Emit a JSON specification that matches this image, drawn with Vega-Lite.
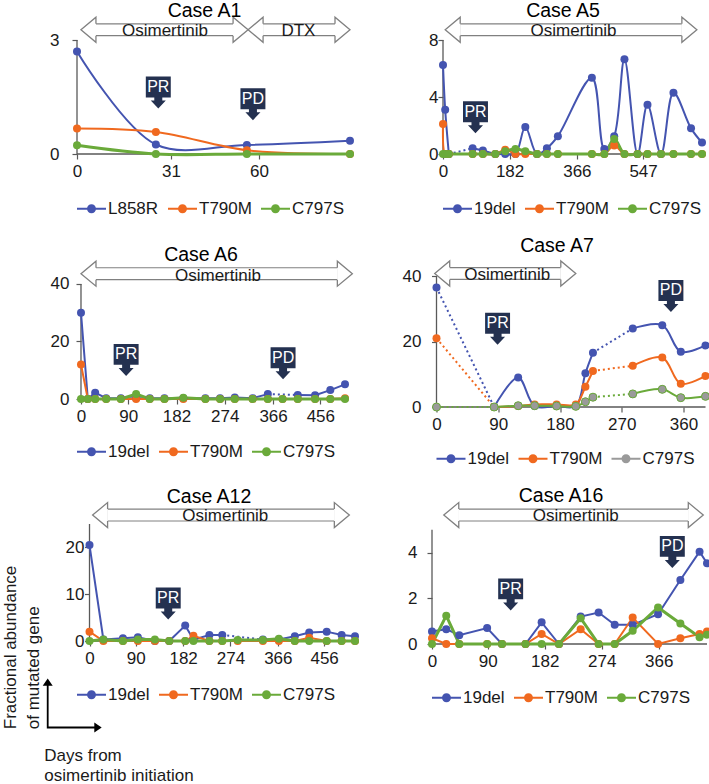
{
"$schema": "https://vega.github.io/schema/vega-lite/v6.json",
"background": "white",
"padding": {"left": 2, "top": 1, "right": 0, "bottom": 0},
"datasets": {
"obs": [
{"c":"A1","s":"L858R","g":"s1","d":0,"v":2.7},{"c":"A1","s":"L858R","g":"s1","d":26,"v":0.25},{"c":"A1","s":"L858R","g":"s1","d":56,"v":0.24},{"c":"A1","s":"L858R","g":"s1","d":90,"v":0.35},
{"c":"A1","s":"T790M","g":"s1","d":0,"v":0.67},{"c":"A1","s":"T790M","g":"s1","d":26,"v":0.58},{"c":"A1","s":"T790M","g":"s1","d":56,"v":0.1},{"c":"A1","s":"T790M","g":"s1","d":90,"v":0},
{"c":"A1","s":"C797S","g":"s1","d":0,"v":0.23},{"c":"A1","s":"C797S","g":"s1","d":26,"v":0},{"c":"A1","s":"C797S","g":"s1","d":56,"v":0},{"c":"A1","s":"C797S","g":"s1","d":90,"v":0},
{"c":"A5","s":"19del","g":"s1","d":0,"v":6.25},{"c":"A5","s":"19del","g":"s1","d":6,"v":3.1},{"c":"A5","s":"19del","g":"s1","d":16,"v":0},
{"c":"A5","s":"19del","g":"d1","d":16,"v":0},{"c":"A5","s":"19del","g":"d1","d":81,"v":0.4},
{"c":"A5","s":"19del","g":"s2","d":81,"v":0.4},{"c":"A5","s":"19del","g":"s2","d":109,"v":0.25},{"c":"A5","s":"19del","g":"s2","d":143,"v":0},{"c":"A5","s":"19del","g":"s2","d":170,"v":0},{"c":"A5","s":"19del","g":"s2","d":198,"v":0},{"c":"A5","s":"19del","g":"s2","d":225,"v":1.9},{"c":"A5","s":"19del","g":"s2","d":257,"v":0},{"c":"A5","s":"19del","g":"s2","d":284,"v":0.4},{"c":"A5","s":"19del","g":"s2","d":314,"v":1.25},{"c":"A5","s":"19del","g":"s2","d":407,"v":5.35},{"c":"A5","s":"19del","g":"s2","d":441,"v":0.35},{"c":"A5","s":"19del","g":"s2","d":468,"v":1.25},{"c":"A5","s":"19del","g":"s2","d":496,"v":6.65},{"c":"A5","s":"19del","g":"s2","d":532,"v":0},{"c":"A5","s":"19del","g":"s2","d":559,"v":3.45},{"c":"A5","s":"19del","g":"s2","d":596,"v":0},{"c":"A5","s":"19del","g":"s2","d":630,"v":4.3},{"c":"A5","s":"19del","g":"s2","d":678,"v":1.8},{"c":"A5","s":"19del","g":"s2","d":708,"v":0.8},
{"c":"A5","s":"T790M","g":"s1","d":0,"v":2.1},{"c":"A5","s":"T790M","g":"s1","d":6,"v":0},{"c":"A5","s":"T790M","g":"s1","d":16,"v":0},{"c":"A5","s":"T790M","g":"s1","d":81,"v":0},{"c":"A5","s":"T790M","g":"s1","d":109,"v":0},{"c":"A5","s":"T790M","g":"s1","d":143,"v":0},{"c":"A5","s":"T790M","g":"s1","d":170,"v":0.3},{"c":"A5","s":"T790M","g":"s1","d":198,"v":0},{"c":"A5","s":"T790M","g":"s1","d":225,"v":0},{"c":"A5","s":"T790M","g":"s1","d":257,"v":0},{"c":"A5","s":"T790M","g":"s1","d":284,"v":0},{"c":"A5","s":"T790M","g":"s1","d":314,"v":0},{"c":"A5","s":"T790M","g":"s1","d":407,"v":0},{"c":"A5","s":"T790M","g":"s1","d":441,"v":0},{"c":"A5","s":"T790M","g":"s1","d":468,"v":0.6},{"c":"A5","s":"T790M","g":"s1","d":496,"v":0},{"c":"A5","s":"T790M","g":"s1","d":532,"v":0},{"c":"A5","s":"T790M","g":"s1","d":559,"v":0},{"c":"A5","s":"T790M","g":"s1","d":596,"v":0},{"c":"A5","s":"T790M","g":"s1","d":630,"v":0},{"c":"A5","s":"T790M","g":"s1","d":678,"v":0},{"c":"A5","s":"T790M","g":"s1","d":708,"v":0},
{"c":"A5","s":"C797S","g":"s1","d":0,"v":0},{"c":"A5","s":"C797S","g":"s1","d":6,"v":0},{"c":"A5","s":"C797S","g":"s1","d":16,"v":0},{"c":"A5","s":"C797S","g":"s1","d":81,"v":0},{"c":"A5","s":"C797S","g":"s1","d":109,"v":0},{"c":"A5","s":"C797S","g":"s1","d":143,"v":0},{"c":"A5","s":"C797S","g":"s1","d":170,"v":0.2},{"c":"A5","s":"C797S","g":"s1","d":198,"v":0.35},{"c":"A5","s":"C797S","g":"s1","d":225,"v":0.2},{"c":"A5","s":"C797S","g":"s1","d":257,"v":0},{"c":"A5","s":"C797S","g":"s1","d":284,"v":0},{"c":"A5","s":"C797S","g":"s1","d":314,"v":0},{"c":"A5","s":"C797S","g":"s1","d":407,"v":0},{"c":"A5","s":"C797S","g":"s1","d":441,"v":0},{"c":"A5","s":"C797S","g":"s1","d":468,"v":1.05},{"c":"A5","s":"C797S","g":"s1","d":496,"v":0},{"c":"A5","s":"C797S","g":"s1","d":532,"v":0},{"c":"A5","s":"C797S","g":"s1","d":559,"v":0},{"c":"A5","s":"C797S","g":"s1","d":596,"v":0},{"c":"A5","s":"C797S","g":"s1","d":630,"v":0},{"c":"A5","s":"C797S","g":"s1","d":678,"v":0},{"c":"A5","s":"C797S","g":"s1","d":708,"v":0},
{"c":"A6","s":"19del","g":"s1","d":0,"v":30},{"c":"A6","s":"19del","g":"s1","d":13,"v":0},{"c":"A6","s":"19del","g":"s1","d":27,"v":2.2},{"c":"A6","s":"19del","g":"s1","d":48,"v":0.3},{"c":"A6","s":"19del","g":"s1","d":76,"v":0.3},{"c":"A6","s":"19del","g":"s1","d":105,"v":0.3},{"c":"A6","s":"19del","g":"s1","d":131,"v":0.3},{"c":"A6","s":"19del","g":"s1","d":159,"v":0.3},{"c":"A6","s":"19del","g":"s1","d":195,"v":0.3},{"c":"A6","s":"19del","g":"s1","d":237,"v":0.3},{"c":"A6","s":"19del","g":"s1","d":265,"v":0.3},{"c":"A6","s":"19del","g":"s1","d":293,"v":0.5},{"c":"A6","s":"19del","g":"s1","d":327,"v":0.3},{"c":"A6","s":"19del","g":"s1","d":356,"v":1.7},
{"c":"A6","s":"19del","g":"d1","d":356,"v":1.7},{"c":"A6","s":"19del","g":"d1","d":413,"v":1.4},
{"c":"A6","s":"19del","g":"s2","d":413,"v":1.4},{"c":"A6","s":"19del","g":"s2","d":446,"v":1.3},{"c":"A6","s":"19del","g":"s2","d":475,"v":3.1},{"c":"A6","s":"19del","g":"s2","d":503,"v":5.1},
{"c":"A6","s":"T790M","g":"s1","d":0,"v":12},{"c":"A6","s":"T790M","g":"s1","d":13,"v":0},{"c":"A6","s":"T790M","g":"s1","d":27,"v":0},{"c":"A6","s":"T790M","g":"s1","d":48,"v":0},{"c":"A6","s":"T790M","g":"s1","d":76,"v":0},{"c":"A6","s":"T790M","g":"s1","d":105,"v":0},{"c":"A6","s":"T790M","g":"s1","d":131,"v":0},{"c":"A6","s":"T790M","g":"s1","d":159,"v":0},{"c":"A6","s":"T790M","g":"s1","d":195,"v":0},{"c":"A6","s":"T790M","g":"s1","d":237,"v":0},{"c":"A6","s":"T790M","g":"s1","d":265,"v":0},{"c":"A6","s":"T790M","g":"s1","d":293,"v":0},{"c":"A6","s":"T790M","g":"s1","d":327,"v":0},{"c":"A6","s":"T790M","g":"s1","d":356,"v":0},{"c":"A6","s":"T790M","g":"s1","d":384,"v":0},{"c":"A6","s":"T790M","g":"s1","d":413,"v":0},{"c":"A6","s":"T790M","g":"s1","d":446,"v":0},{"c":"A6","s":"T790M","g":"s1","d":475,"v":0},{"c":"A6","s":"T790M","g":"s1","d":503,"v":0.3},
{"c":"A6","s":"C797S","g":"s1","d":0,"v":0},{"c":"A6","s":"C797S","g":"s1","d":13,"v":0},{"c":"A6","s":"C797S","g":"s1","d":27,"v":0},{"c":"A6","s":"C797S","g":"s1","d":48,"v":0},{"c":"A6","s":"C797S","g":"s1","d":76,"v":0},{"c":"A6","s":"C797S","g":"s1","d":105,"v":1.7},{"c":"A6","s":"C797S","g":"s1","d":131,"v":0},{"c":"A6","s":"C797S","g":"s1","d":159,"v":0},{"c":"A6","s":"C797S","g":"s1","d":195,"v":0.4},{"c":"A6","s":"C797S","g":"s1","d":237,"v":0},{"c":"A6","s":"C797S","g":"s1","d":265,"v":0},{"c":"A6","s":"C797S","g":"s1","d":293,"v":0},{"c":"A6","s":"C797S","g":"s1","d":327,"v":0},{"c":"A6","s":"C797S","g":"s1","d":356,"v":0},{"c":"A6","s":"C797S","g":"s1","d":384,"v":0},{"c":"A6","s":"C797S","g":"s1","d":413,"v":0},{"c":"A6","s":"C797S","g":"s1","d":446,"v":0},{"c":"A6","s":"C797S","g":"s1","d":475,"v":0},{"c":"A6","s":"C797S","g":"s1","d":503,"v":0},
{"c":"A7","s":"19del","g":"s0","d":0,"v":36.5},{"c":"A7","s":"19del","g":"d1","d":0,"v":36.5},{"c":"A7","s":"19del","g":"d1","d":84,"v":0},
{"c":"A7","s":"19del","g":"s1","d":84,"v":0},{"c":"A7","s":"19del","g":"s1","d":119,"v":9},{"c":"A7","s":"19del","g":"s1","d":143,"v":0.3},{"c":"A7","s":"19del","g":"s1","d":175,"v":0.3},{"c":"A7","s":"19del","g":"s1","d":203,"v":0.3},{"c":"A7","s":"19del","g":"s1","d":217,"v":10.3},{"c":"A7","s":"19del","g":"s1","d":228,"v":16.6},
{"c":"A7","s":"19del","g":"d2","d":228,"v":16.6},{"c":"A7","s":"19del","g":"d2","d":286,"v":24},
{"c":"A7","s":"19del","g":"s2","d":286,"v":24},{"c":"A7","s":"19del","g":"s2","d":329,"v":25},{"c":"A7","s":"19del","g":"s2","d":356,"v":16.9},{"c":"A7","s":"19del","g":"s2","d":392,"v":18.8},
{"c":"A7","s":"T790M","g":"s0","d":0,"v":21},{"c":"A7","s":"T790M","g":"d1","d":0,"v":21},{"c":"A7","s":"T790M","g":"d1","d":84,"v":0},
{"c":"A7","s":"T790M","g":"s1","d":84,"v":0},{"c":"A7","s":"T790M","g":"s1","d":119,"v":0.3},{"c":"A7","s":"T790M","g":"s1","d":143,"v":0.8},{"c":"A7","s":"T790M","g":"s1","d":175,"v":0.8},{"c":"A7","s":"T790M","g":"s1","d":203,"v":0.8},{"c":"A7","s":"T790M","g":"s1","d":217,"v":6.2},{"c":"A7","s":"T790M","g":"s1","d":228,"v":11},
{"c":"A7","s":"T790M","g":"d2","d":228,"v":11},{"c":"A7","s":"T790M","g":"d2","d":286,"v":12.6},
{"c":"A7","s":"T790M","g":"s2","d":286,"v":12.6},{"c":"A7","s":"T790M","g":"s2","d":329,"v":15.1},{"c":"A7","s":"T790M","g":"s2","d":356,"v":7.1},{"c":"A7","s":"T790M","g":"s2","d":392,"v":9.5},
{"c":"A7","s":"C797S","g":"s0","d":0,"v":0},{"c":"A7","s":"C797S","g":"d1","d":0,"v":0},{"c":"A7","s":"C797S","g":"d1","d":84,"v":0},
{"c":"A7","s":"C797S","g":"s1","d":84,"v":0},{"c":"A7","s":"C797S","g":"s1","d":119,"v":0.4},{"c":"A7","s":"C797S","g":"s1","d":143,"v":0.4},{"c":"A7","s":"C797S","g":"s1","d":175,"v":0.3},{"c":"A7","s":"C797S","g":"s1","d":203,"v":0.2},{"c":"A7","s":"C797S","g":"s1","d":217,"v":1.6},{"c":"A7","s":"C797S","g":"s1","d":228,"v":3},
{"c":"A7","s":"C797S","g":"d2","d":228,"v":3},{"c":"A7","s":"C797S","g":"d2","d":286,"v":4},
{"c":"A7","s":"C797S","g":"s2","d":286,"v":4},{"c":"A7","s":"C797S","g":"s2","d":329,"v":5.4},{"c":"A7","s":"C797S","g":"s2","d":356,"v":2.85},{"c":"A7","s":"C797S","g":"s2","d":392,"v":3.25},
{"c":"A12","s":"19del","g":"s1","d":0,"v":20.5},{"c":"A12","s":"19del","g":"s1","d":27,"v":0.3},{"c":"A12","s":"19del","g":"s1","d":65,"v":0.6},{"c":"A12","s":"19del","g":"s1","d":94,"v":0.8},{"c":"A12","s":"19del","g":"s1","d":127,"v":0},{"c":"A12","s":"19del","g":"s1","d":155,"v":0},{"c":"A12","s":"19del","g":"s1","d":186,"v":3.3},{"c":"A12","s":"19del","g":"s1","d":202,"v":0.3},{"c":"A12","s":"19del","g":"s1","d":233,"v":1.3},{"c":"A12","s":"19del","g":"s1","d":258,"v":1.3},
{"c":"A12","s":"19del","g":"d1","d":258,"v":1.3},{"c":"A12","s":"19del","g":"d1","d":337,"v":0.3},
{"c":"A12","s":"19del","g":"s2","d":337,"v":0.3},{"c":"A12","s":"19del","g":"s2","d":368,"v":0.3},{"c":"A12","s":"19del","g":"s2","d":399,"v":1},{"c":"A12","s":"19del","g":"s2","d":427,"v":1.8},{"c":"A12","s":"19del","g":"s2","d":461,"v":2},{"c":"A12","s":"19del","g":"s2","d":490,"v":1.3},{"c":"A12","s":"19del","g":"s2","d":516,"v":1},
{"c":"A12","s":"T790M","g":"s1","d":0,"v":2},{"c":"A12","s":"T790M","g":"s1","d":27,"v":0},{"c":"A12","s":"T790M","g":"s1","d":65,"v":0},{"c":"A12","s":"T790M","g":"s1","d":94,"v":0},{"c":"A12","s":"T790M","g":"s1","d":127,"v":0},{"c":"A12","s":"T790M","g":"s1","d":155,"v":0},{"c":"A12","s":"T790M","g":"s1","d":186,"v":0},{"c":"A12","s":"T790M","g":"s1","d":202,"v":1.1},{"c":"A12","s":"T790M","g":"s1","d":233,"v":0},{"c":"A12","s":"T790M","g":"s1","d":258,"v":0},{"c":"A12","s":"T790M","g":"s1","d":288,"v":0},{"c":"A12","s":"T790M","g":"s1","d":337,"v":0},{"c":"A12","s":"T790M","g":"s1","d":368,"v":0},{"c":"A12","s":"T790M","g":"s1","d":399,"v":0},{"c":"A12","s":"T790M","g":"s1","d":427,"v":0.7},{"c":"A12","s":"T790M","g":"s1","d":461,"v":0},{"c":"A12","s":"T790M","g":"s1","d":490,"v":0},{"c":"A12","s":"T790M","g":"s1","d":516,"v":0},
{"c":"A12","s":"C797S","g":"s1","d":0,"v":0},{"c":"A12","s":"C797S","g":"s1","d":27,"v":0.3},{"c":"A12","s":"C797S","g":"s1","d":65,"v":0},{"c":"A12","s":"C797S","g":"s1","d":94,"v":0.3},{"c":"A12","s":"C797S","g":"s1","d":127,"v":0.3},{"c":"A12","s":"C797S","g":"s1","d":155,"v":0},{"c":"A12","s":"C797S","g":"s1","d":186,"v":0},{"c":"A12","s":"C797S","g":"s1","d":202,"v":0},{"c":"A12","s":"C797S","g":"s1","d":233,"v":0},{"c":"A12","s":"C797S","g":"s1","d":258,"v":0},{"c":"A12","s":"C797S","g":"s1","d":288,"v":0.2},{"c":"A12","s":"C797S","g":"s1","d":337,"v":0.2},{"c":"A12","s":"C797S","g":"s1","d":368,"v":0.5},{"c":"A12","s":"C797S","g":"s1","d":399,"v":0},{"c":"A12","s":"C797S","g":"s1","d":427,"v":0},{"c":"A12","s":"C797S","g":"s1","d":461,"v":0},{"c":"A12","s":"C797S","g":"s1","d":490,"v":0},{"c":"A12","s":"C797S","g":"s1","d":516,"v":0},
{"c":"A16","s":"19del","g":"s1","d":0,"v":0.55},{"c":"A16","s":"19del","g":"s1","d":23,"v":0.65},{"c":"A16","s":"19del","g":"s1","d":44,"v":0.38},{"c":"A16","s":"19del","g":"s1","d":89,"v":0.7},{"c":"A16","s":"19del","g":"s1","d":113,"v":0},{"c":"A16","s":"19del","g":"s1","d":151,"v":0},{"c":"A16","s":"19del","g":"s1","d":177,"v":0.95},{"c":"A16","s":"19del","g":"s1","d":205,"v":0},{"c":"A16","s":"19del","g":"s1","d":240,"v":1.2},{"c":"A16","s":"19del","g":"s1","d":269,"v":1.38},{"c":"A16","s":"19del","g":"s1","d":295,"v":0.84},{"c":"A16","s":"19del","g":"s1","d":324,"v":0.84},{"c":"A16","s":"19del","g":"s1","d":365,"v":1.3},{"c":"A16","s":"19del","g":"s1","d":401,"v":2.8},{"c":"A16","s":"19del","g":"s1","d":432,"v":4.04},{"c":"A16","s":"19del","g":"s1","d":444,"v":3.53},
{"c":"A16","s":"T790M","g":"s1","d":0,"v":0.25},{"c":"A16","s":"T790M","g":"s1","d":23,"v":0},{"c":"A16","s":"T790M","g":"s1","d":44,"v":0},{"c":"A16","s":"T790M","g":"s1","d":89,"v":0},{"c":"A16","s":"T790M","g":"s1","d":113,"v":0},{"c":"A16","s":"T790M","g":"s1","d":151,"v":0},{"c":"A16","s":"T790M","g":"s1","d":177,"v":0.44},{"c":"A16","s":"T790M","g":"s1","d":205,"v":0},{"c":"A16","s":"T790M","g":"s1","d":240,"v":0.65},{"c":"A16","s":"T790M","g":"s1","d":269,"v":0},{"c":"A16","s":"T790M","g":"s1","d":295,"v":0},{"c":"A16","s":"T790M","g":"s1","d":324,"v":1.16},{"c":"A16","s":"T790M","g":"s1","d":365,"v":0},{"c":"A16","s":"T790M","g":"s1","d":401,"v":0.25},{"c":"A16","s":"T790M","g":"s1","d":432,"v":0.44},{"c":"A16","s":"T790M","g":"s1","d":444,"v":0.55},
{"c":"A16","s":"C797S","g":"s1","d":0,"v":0},{"c":"A16","s":"C797S","g":"s1","d":23,"v":1.24},{"c":"A16","s":"C797S","g":"s1","d":44,"v":0},{"c":"A16","s":"C797S","g":"s1","d":89,"v":0},{"c":"A16","s":"C797S","g":"s1","d":113,"v":0},{"c":"A16","s":"C797S","g":"s1","d":151,"v":0},{"c":"A16","s":"C797S","g":"s1","d":177,"v":0},{"c":"A16","s":"C797S","g":"s1","d":205,"v":0},{"c":"A16","s":"C797S","g":"s1","d":240,"v":1.13},{"c":"A16","s":"C797S","g":"s1","d":269,"v":0},{"c":"A16","s":"C797S","g":"s1","d":295,"v":0},{"c":"A16","s":"C797S","g":"s1","d":324,"v":0.58},{"c":"A16","s":"C797S","g":"s1","d":365,"v":1.6},{"c":"A16","s":"C797S","g":"s1","d":401,"v":0.9},{"c":"A16","s":"C797S","g":"s1","d":432,"v":0.3},{"c":"A16","s":"C797S","g":"s1","d":444,"v":0.41}
],
"arrows": [
{"c":"A1","t":"Osimertinib","x1":1.3,"x2":56.4,"xm":29,"y":3.27},
{"c":"A1","t":"DTX","x1":56.4,"x2":90,"xm":73,"y":3.27},
{"c":"A5","t":"Osimertinib","x1":6,"x2":694,"xm":357,"y":8.72},
{"c":"A6","t":"Osimertinib","x1":0,"x2":517,"xm":261,"y":43.6},
{"c":"A7","t":"Osimertinib","x1":-2.6,"x2":203,"xm":103,"y":40.76},
{"c":"A12","t":"Osimertinib","x1":6,"x2":505,"xm":264,"y":26.9},
{"c":"A16","t":"Osimertinib","x1":19,"x2":438,"xm":232,"y":5.64}
],
"status": [
{"c":"A1","t":"PR","d":26.8,"v":1.62},{"c":"A1","t":"PD","d":58,"v":1.31},
{"c":"A5","t":"PR","d":88.8,"v":2.58},
{"c":"A6","t":"PR","d":86,"v":13.6},{"c":"A6","t":"PD","d":385,"v":12.4},
{"c":"A7","t":"PR","d":89,"v":23.9},{"c":"A7","t":"PD","d":341.6,"v":33.9},
{"c":"A12","t":"PR","d":153,"v":8},
{"c":"A16","t":"PR","d":127,"v":2.17},{"c":"A16","t":"PD","d":388,"v":4.03}
],
"one": [{"k": 1}]
},
"spacing": 18,
"resolve": {"scale": {"color": "independent", "x": "independent", "y": "independent"}, "legend": {"color": "independent"}},
"vconcat": [
{"hconcat": [
{"width": 273, "height": 114, "title": {"text": "Case A1", "offset": -7, "dx": -9},
 "layer": [
  {"data": {"name": "one"}, "mark": {"type": "rule", "color": "#595959", "strokeWidth": 1.3}, "encoding": {"x": {"datum": 0, "type": "quantitative", "scale": {"domain": [0, 90], "nice": false}, "axis": {"values": [0, 31, 60], "title": null, "labelOverlap": false}}, "y": {"datum": 0, "type": "quantitative", "scale": {"domain": [0, 3], "nice": false}, "axis": {"values": [0, 1, 2, 3], "title": null, "labelOverlap": false, "labelSeparation": -200, "labelPadding": 13}}, "y2": {"datum": 3}}},
  {"data": {"name": "one"}, "mark": {"type": "rule", "color": "#595959", "strokeWidth": 1.3}, "encoding": {"x": {"datum": 0, "type": "quantitative", "scale": {"domain": [0, 90], "nice": false}}, "x2": {"datum": 90}, "y": {"datum": 0, "type": "quantitative", "scale": {"domain": [0, 3], "nice": false}}}},
  {"data": {"name": "arrows"}, "transform": [{"filter": "datum.c==='A1'"}], "mark": {"type": "rule", "color": "#808080", "strokeWidth": 13, "strokeCap": "butt", "xOffset": 15, "x2Offset": -15}, "encoding": {"x": {"field": "x1", "type": "quantitative", "scale": {"domain": [0, 90], "nice": false}}, "x2": {"field": "x2"}, "y": {"field": "y", "type": "quantitative", "scale": {"domain": [0, 3], "nice": false}}}},
  {"data": {"name": "arrows"}, "transform": [{"filter": "datum.c==='A1'"}], "mark": {"type": "rule", "color": "#ffffff", "strokeWidth": 10.6, "strokeCap": "butt", "xOffset": 15, "x2Offset": -15}, "encoding": {"x": {"field": "x1", "type": "quantitative", "scale": {"domain": [0, 90], "nice": false}}, "x2": {"field": "x2"}, "y": {"field": "y", "type": "quantitative", "scale": {"domain": [0, 3], "nice": false}}}},
  {"data": {"name": "arrows"}, "transform": [{"filter": "datum.c==='A1'"}], "mark": {"type": "point", "shape": "M1.2,-0.48L1.2,-1L0,0L1.2,1L1.2,0.48", "size": 625, "filled": true, "color": "#ffffff", "stroke": "#808080", "strokeWidth": 1.3, "opacity": 1}, "encoding": {"x": {"field": "x1", "type": "quantitative", "scale": {"domain": [0, 90], "nice": false}}, "y": {"field": "y", "type": "quantitative", "scale": {"domain": [0, 3], "nice": false}}}},
  {"data": {"name": "arrows"}, "transform": [{"filter": "datum.c==='A1'"}], "mark": {"type": "point", "shape": "M-1.2,-0.48L-1.2,-1L0,0L-1.2,1L-1.2,0.48", "size": 625, "filled": true, "color": "#ffffff", "stroke": "#808080", "strokeWidth": 1.3, "opacity": 1}, "encoding": {"x": {"field": "x2", "type": "quantitative", "scale": {"domain": [0, 90], "nice": false}}, "y": {"field": "y", "type": "quantitative", "scale": {"domain": [0, 3], "nice": false}}}},
  {"data": {"name": "arrows"}, "transform": [{"filter": "datum.c==='A1'"}], "mark": {"type": "text", "fontSize": 17, "dy": 1, "baseline": "middle", "color": "#1a1a1a"}, "encoding": {"x": {"field": "xm", "type": "quantitative", "scale": {"domain": [0, 90], "nice": false}}, "y": {"field": "y", "type": "quantitative", "scale": {"domain": [0, 3], "nice": false}}, "text": {"field": "t"}}},
  {"data": {"name": "obs"}, "transform": [{"filter": "datum.c==='A1' && indexof(datum.g,'s')===0"}], "mark": {"type": "line", "interpolate": "catmull-rom"}, "encoding": {"x": {"field": "d", "type": "quantitative", "scale": {"domain": [0, 90], "nice": false}}, "y": {"field": "v", "type": "quantitative", "scale": {"domain": [0, 3], "nice": false}}, "detail": [{"field": "s", "type": "nominal"}, {"field": "g", "type": "nominal"}], "strokeWidth": {"condition": {"test": "datum.s==='C797S'", "value": 3}, "value": 2},
    "color": {"condition": [{"test": "datum.s==='C797S'", "value": "#6aaa3a"}, {"test": "datum.s==='T790M'", "value": "#f0691f"}], "value": "#4454b0"}}},
  {"data": {"name": "obs"}, "transform": [{"filter": "datum.c==='A1' && indexof(datum.g,'s')===0"}], "mark": {"type": "point", "filled": true, "size": 64, "opacity": 1}, "encoding": {"x": {"field": "d", "type": "quantitative", "scale": {"domain": [0, 90], "nice": false}, "axis": {"values": [0, 31, 60], "title": null, "labelOverlap": false}}, "y": {"field": "v", "type": "quantitative", "scale": {"domain": [0, 3], "nice": false}, "axis": {"values": [0, 1, 2, 3], "title": null, "labelOverlap": false, "labelSeparation": -200, "labelPadding": 13}},
    "color": {"field": "s", "type": "nominal", "scale": {"domain": ["L858R", "T790M", "C797S"], "range": ["#4454b0", "#f0691f", "#6aaa3a"]}, "legend": {"title": null, "offset": 15}}}},
  {"data": {"name": "status"}, "transform": [{"filter": "datum.c==='A1'"}], "mark": {"type": "point", "shape": "M-0.78,-1H0.78V0.31H0.25V0.5H0.47L0,1L-0.47,0.5H-0.25V0.31H-0.78Z", "size": 1024, "filled": true, "color": "#243150", "opacity": 1}, "encoding": {"x": {"field": "d", "type": "quantitative", "scale": {"domain": [0, 90], "nice": false}}, "y": {"field": "v", "type": "quantitative", "scale": {"domain": [0, 3], "nice": false}}}},
  {"data": {"name": "status"}, "transform": [{"filter": "datum.c==='A1'"}], "mark": {"type": "text", "color": "#ffffff", "fontSize": 16, "dy": -5.5, "baseline": "middle"}, "encoding": {"x": {"field": "d", "type": "quantitative", "scale": {"domain": [0, 90], "nice": false}}, "y": {"field": "v", "type": "quantitative", "scale": {"domain": [0, 3], "nice": false}}, "text": {"field": "t"}}}
 ]},
{"width": 259, "height": 114, "title": {"text": "Case A5", "offset": -7, "dx": -9.5},
 "layer": [
  {"data": {"name": "one"}, "mark": {"type": "rule", "color": "#595959", "strokeWidth": 1.3}, "encoding": {"x": {"datum": 0, "type": "quantitative", "scale": {"domain": [0, 708], "nice": false}, "axis": {"values": [0, 182, 366, 547], "title": null, "labelOverlap": false}}, "y": {"datum": 0, "type": "quantitative", "scale": {"domain": [0, 8], "nice": false}, "axis": {"values": [0, 2, 4, 6, 8], "title": null, "labelOverlap": false, "labelSeparation": -200, "labelPadding": 0}}, "y2": {"datum": 8}}},
  {"data": {"name": "one"}, "mark": {"type": "rule", "color": "#595959", "strokeWidth": 1.3}, "encoding": {"x": {"datum": 0, "type": "quantitative", "scale": {"domain": [0, 708], "nice": false}}, "x2": {"datum": 708}, "y": {"datum": 0, "type": "quantitative", "scale": {"domain": [0, 8], "nice": false}}}},
  {"data": {"name": "arrows"}, "transform": [{"filter": "datum.c==='A5'"}], "mark": {"type": "rule", "color": "#808080", "strokeWidth": 13, "strokeCap": "butt", "xOffset": 15, "x2Offset": -15}, "encoding": {"x": {"field": "x1", "type": "quantitative", "scale": {"domain": [0, 708], "nice": false}}, "x2": {"field": "x2"}, "y": {"field": "y", "type": "quantitative", "scale": {"domain": [0, 8], "nice": false}}}},
  {"data": {"name": "arrows"}, "transform": [{"filter": "datum.c==='A5'"}], "mark": {"type": "rule", "color": "#ffffff", "strokeWidth": 10.6, "strokeCap": "butt", "xOffset": 15, "x2Offset": -15}, "encoding": {"x": {"field": "x1", "type": "quantitative", "scale": {"domain": [0, 708], "nice": false}}, "x2": {"field": "x2"}, "y": {"field": "y", "type": "quantitative", "scale": {"domain": [0, 8], "nice": false}}}},
  {"data": {"name": "arrows"}, "transform": [{"filter": "datum.c==='A5'"}], "mark": {"type": "point", "shape": "M1.2,-0.48L1.2,-1L0,0L1.2,1L1.2,0.48", "size": 625, "filled": true, "color": "#ffffff", "stroke": "#808080", "strokeWidth": 1.3, "opacity": 1}, "encoding": {"x": {"field": "x1", "type": "quantitative", "scale": {"domain": [0, 708], "nice": false}}, "y": {"field": "y", "type": "quantitative", "scale": {"domain": [0, 8], "nice": false}}}},
  {"data": {"name": "arrows"}, "transform": [{"filter": "datum.c==='A5'"}], "mark": {"type": "point", "shape": "M-1.2,-0.48L-1.2,-1L0,0L-1.2,1L-1.2,0.48", "size": 625, "filled": true, "color": "#ffffff", "stroke": "#808080", "strokeWidth": 1.3, "opacity": 1}, "encoding": {"x": {"field": "x2", "type": "quantitative", "scale": {"domain": [0, 708], "nice": false}}, "y": {"field": "y", "type": "quantitative", "scale": {"domain": [0, 8], "nice": false}}}},
  {"data": {"name": "arrows"}, "transform": [{"filter": "datum.c==='A5'"}], "mark": {"type": "text", "fontSize": 17, "dy": 1, "baseline": "middle", "color": "#1a1a1a"}, "encoding": {"x": {"field": "xm", "type": "quantitative", "scale": {"domain": [0, 708], "nice": false}}, "y": {"field": "y", "type": "quantitative", "scale": {"domain": [0, 8], "nice": false}}, "text": {"field": "t"}}},
  {"data": {"name": "obs"}, "transform": [{"filter": "datum.c==='A5' && indexof(datum.g,'d')===0"}], "mark": {"type": "line", "strokeDash": [2, 3], "strokeWidth": 2}, "encoding": {"x": {"field": "d", "type": "quantitative", "scale": {"domain": [0, 708], "nice": false}}, "y": {"field": "v", "type": "quantitative", "scale": {"domain": [0, 8], "nice": false}}, "detail": [{"field": "s", "type": "nominal"}, {"field": "g", "type": "nominal"}], "color": {"condition": [{"test": "datum.s==='C797S'", "value": "#6aaa3a"}, {"test": "datum.s==='T790M'", "value": "#f0691f"}], "value": "#4454b0"}}},
  {"data": {"name": "obs"}, "transform": [{"filter": "datum.c==='A5' && indexof(datum.g,'s')===0"}], "mark": {"type": "line", "interpolate": "catmull-rom"}, "encoding": {"x": {"field": "d", "type": "quantitative", "scale": {"domain": [0, 708], "nice": false}}, "y": {"field": "v", "type": "quantitative", "scale": {"domain": [0, 8], "nice": false}}, "detail": [{"field": "s", "type": "nominal"}, {"field": "g", "type": "nominal"}], "strokeWidth": {"condition": {"test": "datum.s==='C797S'", "value": 3}, "value": 2},
    "color": {"condition": [{"test": "datum.s==='C797S'", "value": "#6aaa3a"}, {"test": "datum.s==='T790M'", "value": "#f0691f"}], "value": "#4454b0"}}},
  {"data": {"name": "obs"}, "transform": [{"filter": "datum.c==='A5' && indexof(datum.g,'s')===0"}], "mark": {"type": "point", "filled": true, "size": 64, "opacity": 1}, "encoding": {"x": {"field": "d", "type": "quantitative", "scale": {"domain": [0, 708], "nice": false}, "axis": {"values": [0, 182, 366, 547], "title": null, "labelOverlap": false}}, "y": {"field": "v", "type": "quantitative", "scale": {"domain": [0, 8], "nice": false}, "axis": {"values": [0, 2, 4, 6, 8], "title": null, "labelOverlap": false, "labelSeparation": -200, "labelPadding": 0}},
    "color": {"field": "s", "type": "nominal", "scale": {"domain": ["19del", "T790M", "C797S"], "range": ["#4454b0", "#f0691f", "#6aaa3a"]}, "legend": {"title": null, "offset": 15}}}},
  {"data": {"name": "status"}, "transform": [{"filter": "datum.c==='A5'"}], "mark": {"type": "point", "shape": "M-0.78,-1H0.78V0.31H0.25V0.5H0.47L0,1L-0.47,0.5H-0.25V0.31H-0.78Z", "size": 1024, "filled": true, "color": "#243150", "opacity": 1}, "encoding": {"x": {"field": "d", "type": "quantitative", "scale": {"domain": [0, 708], "nice": false}}, "y": {"field": "v", "type": "quantitative", "scale": {"domain": [0, 8], "nice": false}}}},
  {"data": {"name": "status"}, "transform": [{"filter": "datum.c==='A5'"}], "mark": {"type": "text", "color": "#ffffff", "fontSize": 16, "dy": -5.5, "baseline": "middle"}, "encoding": {"x": {"field": "d", "type": "quantitative", "scale": {"domain": [0, 708], "nice": false}}, "y": {"field": "v", "type": "quantitative", "scale": {"domain": [0, 8], "nice": false}}, "text": {"field": "t"}}}
 ]}
], "spacing": 72, "resolve": {"scale": {"color": "independent", "x": "independent", "y": "independent"}, "legend": {"color": "independent"}}},
{"hconcat": [
{"width": 268, "height": 123, "title": {"text": "Case A6", "offset": -7, "dx": -10},
 "layer": [
  {"data": {"name": "one"}, "mark": {"type": "rule", "color": "#595959", "strokeWidth": 1.3}, "encoding": {"x": {"datum": 0, "type": "quantitative", "scale": {"domain": [-7.6, 503], "nice": false}, "axis": {"values": [0, 90, 182, 274, 366, 456], "title": null, "labelOverlap": false}}, "y": {"datum": 0, "type": "quantitative", "scale": {"domain": [0, 42.78], "nice": false}, "axis": {"values": [0, 10, 20, 30, 40], "title": null, "offset": -4, "labelOverlap": false, "labelSeparation": -200, "labelPadding": 7}}, "y2": {"datum": 40}}},
  {"data": {"name": "one"}, "mark": {"type": "rule", "color": "#595959", "strokeWidth": 1.3}, "encoding": {"x": {"datum": 0, "type": "quantitative", "scale": {"domain": [-7.6, 503], "nice": false}}, "x2": {"datum": 503}, "y": {"datum": 0, "type": "quantitative", "scale": {"domain": [0, 42.78], "nice": false}}}},
  {"data": {"name": "arrows"}, "transform": [{"filter": "datum.c==='A6'"}], "mark": {"type": "rule", "color": "#808080", "strokeWidth": 13, "strokeCap": "butt", "xOffset": 15, "x2Offset": -15}, "encoding": {"x": {"field": "x1", "type": "quantitative", "scale": {"domain": [-7.6, 503], "nice": false}}, "x2": {"field": "x2"}, "y": {"field": "y", "type": "quantitative", "scale": {"domain": [0, 42.78], "nice": false}}}},
  {"data": {"name": "arrows"}, "transform": [{"filter": "datum.c==='A6'"}], "mark": {"type": "rule", "color": "#ffffff", "strokeWidth": 10.6, "strokeCap": "butt", "xOffset": 15, "x2Offset": -15}, "encoding": {"x": {"field": "x1", "type": "quantitative", "scale": {"domain": [-7.6, 503], "nice": false}}, "x2": {"field": "x2"}, "y": {"field": "y", "type": "quantitative", "scale": {"domain": [0, 42.78], "nice": false}}}},
  {"data": {"name": "arrows"}, "transform": [{"filter": "datum.c==='A6'"}], "mark": {"type": "point", "shape": "M1.2,-0.48L1.2,-1L0,0L1.2,1L1.2,0.48", "size": 625, "filled": true, "color": "#ffffff", "stroke": "#808080", "strokeWidth": 1.3, "opacity": 1}, "encoding": {"x": {"field": "x1", "type": "quantitative", "scale": {"domain": [-7.6, 503], "nice": false}}, "y": {"field": "y", "type": "quantitative", "scale": {"domain": [0, 42.78], "nice": false}}}},
  {"data": {"name": "arrows"}, "transform": [{"filter": "datum.c==='A6'"}], "mark": {"type": "point", "shape": "M-1.2,-0.48L-1.2,-1L0,0L-1.2,1L-1.2,0.48", "size": 625, "filled": true, "color": "#ffffff", "stroke": "#808080", "strokeWidth": 1.3, "opacity": 1}, "encoding": {"x": {"field": "x2", "type": "quantitative", "scale": {"domain": [-7.6, 503], "nice": false}}, "y": {"field": "y", "type": "quantitative", "scale": {"domain": [0, 42.78], "nice": false}}}},
  {"data": {"name": "arrows"}, "transform": [{"filter": "datum.c==='A6'"}], "mark": {"type": "text", "fontSize": 17, "dy": 2, "baseline": "middle", "color": "#1a1a1a"}, "encoding": {"x": {"field": "xm", "type": "quantitative", "scale": {"domain": [-7.6, 503], "nice": false}}, "y": {"field": "y", "type": "quantitative", "scale": {"domain": [0, 42.78], "nice": false}}, "text": {"field": "t"}}},
  {"data": {"name": "obs"}, "transform": [{"filter": "datum.c==='A6' && indexof(datum.g,'d')===0"}], "mark": {"type": "line", "strokeDash": [2, 3], "strokeWidth": 2}, "encoding": {"x": {"field": "d", "type": "quantitative", "scale": {"domain": [-7.6, 503], "nice": false}}, "y": {"field": "v", "type": "quantitative", "scale": {"domain": [0, 42.78], "nice": false}}, "detail": [{"field": "s", "type": "nominal"}, {"field": "g", "type": "nominal"}], "color": {"condition": [{"test": "datum.s==='C797S'", "value": "#6aaa3a"}, {"test": "datum.s==='T790M'", "value": "#f0691f"}], "value": "#4454b0"}}},
  {"data": {"name": "obs"}, "transform": [{"filter": "datum.c==='A6' && indexof(datum.g,'s')===0"}], "mark": {"type": "line"}, "encoding": {"x": {"field": "d", "type": "quantitative", "scale": {"domain": [-7.6, 503], "nice": false}}, "y": {"field": "v", "type": "quantitative", "scale": {"domain": [0, 42.78], "nice": false}}, "detail": [{"field": "s", "type": "nominal"}, {"field": "g", "type": "nominal"}], "strokeWidth": {"condition": {"test": "datum.s==='C797S'", "value": 3}, "value": 2},
    "color": {"condition": [{"test": "datum.s==='C797S'", "value": "#6aaa3a"}, {"test": "datum.s==='T790M'", "value": "#f0691f"}], "value": "#4454b0"}}},
  {"data": {"name": "obs"}, "transform": [{"filter": "datum.c==='A6' && indexof(datum.g,'s')===0"}], "mark": {"type": "point", "filled": true, "size": 64, "opacity": 1}, "encoding": {"x": {"field": "d", "type": "quantitative", "scale": {"domain": [-7.6, 503], "nice": false}, "axis": {"values": [0, 90, 182, 274, 366, 456], "title": null, "labelOverlap": false}}, "y": {"field": "v", "type": "quantitative", "scale": {"domain": [0, 42.78], "nice": false}, "axis": {"values": [0, 10, 20, 30, 40], "title": null, "offset": -4, "labelOverlap": false, "labelSeparation": -200, "labelPadding": 7}},
    "color": {"field": "s", "type": "nominal", "scale": {"domain": ["19del", "T790M", "C797S"], "range": ["#4454b0", "#f0691f", "#6aaa3a"]}, "legend": {"title": null, "offset": 13}}}},
  {"data": {"name": "status"}, "transform": [{"filter": "datum.c==='A6'"}], "mark": {"type": "point", "shape": "M-0.78,-1H0.78V0.31H0.25V0.5H0.47L0,1L-0.47,0.5H-0.25V0.31H-0.78Z", "size": 1024, "filled": true, "color": "#243150", "opacity": 1}, "encoding": {"x": {"field": "d", "type": "quantitative", "scale": {"domain": [-7.6, 503], "nice": false}}, "y": {"field": "v", "type": "quantitative", "scale": {"domain": [0, 42.78], "nice": false}}}},
  {"data": {"name": "status"}, "transform": [{"filter": "datum.c==='A6'"}], "mark": {"type": "text", "color": "#ffffff", "fontSize": 16, "dy": -5.5, "baseline": "middle"}, "encoding": {"x": {"field": "d", "type": "quantitative", "scale": {"domain": [-7.6, 503], "nice": false}}, "y": {"field": "v", "type": "quantitative", "scale": {"domain": [0, 42.78], "nice": false}}, "text": {"field": "t"}}}
 ]},
{"width": 269, "height": 131, "title": {"text": "Case A7", "offset": 2, "dx": -14},
 "layer": [
  {"data": {"name": "one"}, "mark": {"type": "rule", "color": "#595959", "strokeWidth": 1.3}, "encoding": {"x": {"datum": 0, "type": "quantitative", "scale": {"domain": [0, 392], "nice": false}, "axis": {"values": [0, 90, 180, 270, 360], "title": null, "labelOverlap": false}}, "y": {"datum": 0, "type": "quantitative", "scale": {"domain": [0, 40], "nice": false}, "axis": {"values": [0, 10, 20, 30, 40], "title": null, "labelOverlap": false, "labelSeparation": -200, "labelPadding": 10.5}}, "y2": {"datum": 40}}},
  {"data": {"name": "one"}, "mark": {"type": "rule", "color": "#595959", "strokeWidth": 1.3}, "encoding": {"x": {"datum": 0, "type": "quantitative", "scale": {"domain": [0, 392], "nice": false}}, "x2": {"datum": 392}, "y": {"datum": 0, "type": "quantitative", "scale": {"domain": [0, 40], "nice": false}}}},
  {"data": {"name": "arrows"}, "transform": [{"filter": "datum.c==='A7'"}], "mark": {"type": "rule", "color": "#808080", "strokeWidth": 13, "strokeCap": "butt", "xOffset": 15, "x2Offset": -15}, "encoding": {"x": {"field": "x1", "type": "quantitative", "scale": {"domain": [0, 392], "nice": false}}, "x2": {"field": "x2"}, "y": {"field": "y", "type": "quantitative", "scale": {"domain": [0, 40], "nice": false}}}},
  {"data": {"name": "arrows"}, "transform": [{"filter": "datum.c==='A7'"}], "mark": {"type": "rule", "color": "#ffffff", "strokeWidth": 10.6, "strokeCap": "butt", "xOffset": 15, "x2Offset": -15}, "encoding": {"x": {"field": "x1", "type": "quantitative", "scale": {"domain": [0, 392], "nice": false}}, "x2": {"field": "x2"}, "y": {"field": "y", "type": "quantitative", "scale": {"domain": [0, 40], "nice": false}}}},
  {"data": {"name": "arrows"}, "transform": [{"filter": "datum.c==='A7'"}], "mark": {"type": "point", "shape": "M1.2,-0.48L1.2,-1L0,0L1.2,1L1.2,0.48", "size": 625, "filled": true, "color": "#ffffff", "stroke": "#808080", "strokeWidth": 1.3, "opacity": 1}, "encoding": {"x": {"field": "x1", "type": "quantitative", "scale": {"domain": [0, 392], "nice": false}}, "y": {"field": "y", "type": "quantitative", "scale": {"domain": [0, 40], "nice": false}}}},
  {"data": {"name": "arrows"}, "transform": [{"filter": "datum.c==='A7'"}], "mark": {"type": "point", "shape": "M-1.2,-0.48L-1.2,-1L0,0L-1.2,1L-1.2,0.48", "size": 625, "filled": true, "color": "#ffffff", "stroke": "#808080", "strokeWidth": 1.3, "opacity": 1}, "encoding": {"x": {"field": "x2", "type": "quantitative", "scale": {"domain": [0, 392], "nice": false}}, "y": {"field": "y", "type": "quantitative", "scale": {"domain": [0, 40], "nice": false}}}},
  {"data": {"name": "arrows"}, "transform": [{"filter": "datum.c==='A7'"}], "mark": {"type": "text", "fontSize": 17, "dy": 1, "baseline": "middle", "color": "#1a1a1a"}, "encoding": {"x": {"field": "xm", "type": "quantitative", "scale": {"domain": [0, 392], "nice": false}}, "y": {"field": "y", "type": "quantitative", "scale": {"domain": [0, 40], "nice": false}}, "text": {"field": "t"}}},
  {"data": {"name": "obs"}, "transform": [{"filter": "datum.c==='A7' && indexof(datum.g,'d')===0"}], "mark": {"type": "line", "strokeDash": [2, 3], "strokeWidth": 2}, "encoding": {"x": {"field": "d", "type": "quantitative", "scale": {"domain": [0, 392], "nice": false}}, "y": {"field": "v", "type": "quantitative", "scale": {"domain": [0, 40], "nice": false}}, "detail": [{"field": "s", "type": "nominal"}, {"field": "g", "type": "nominal"}], "color": {"condition": [{"test": "datum.s==='C797S'", "value": "#6aaa3a"}, {"test": "datum.s==='T790M'", "value": "#f0691f"}], "value": "#4454b0"}}},
  {"data": {"name": "obs"}, "transform": [{"filter": "datum.c==='A7' && indexof(datum.g,'s')===0"}], "mark": {"type": "line", "interpolate": "catmull-rom", "strokeWidth": 2}, "encoding": {"x": {"field": "d", "type": "quantitative", "scale": {"domain": [0, 392], "nice": false}}, "y": {"field": "v", "type": "quantitative", "scale": {"domain": [0, 40], "nice": false}}, "detail": [{"field": "s", "type": "nominal"}, {"field": "g", "type": "nominal"}],
    "color": {"condition": [{"test": "datum.s==='C797S'", "value": "#6aaa3a"}, {"test": "datum.s==='T790M'", "value": "#f0691f"}], "value": "#4454b0"}}},
  {"data": {"name": "obs"}, "transform": [{"filter": "datum.c==='A7' && indexof(datum.g,'s')===0"}], "mark": {"type": "point", "filled": true, "size": 64, "opacity": 1}, "encoding": {"x": {"field": "d", "type": "quantitative", "scale": {"domain": [0, 392], "nice": false}, "axis": {"values": [0, 90, 180, 270, 360], "title": null, "labelOverlap": false}}, "y": {"field": "v", "type": "quantitative", "scale": {"domain": [0, 40], "nice": false}, "axis": {"values": [0, 10, 20, 30, 40], "title": null, "labelOverlap": false, "labelSeparation": -200, "labelPadding": 10.5}},
    "color": {"field": "s", "type": "nominal", "scale": {"domain": ["19del", "T790M", "C797S"], "range": ["#4454b0", "#f0691f", "#9a9a9a"]}, "legend": {"title": null, "offset": 12}}}},
  {"data": {"name": "obs"}, "transform": [{"filter": "datum.c==='A7' && datum.s==='C797S' && indexof(datum.g,'s')===0"}], "mark": {"type": "point", "filled": true, "size": 64, "opacity": 1, "color": "#9a9a9a", "stroke": "#6aaa3a", "strokeWidth": 1}, "encoding": {"x": {"field": "d", "type": "quantitative", "scale": {"domain": [0, 392], "nice": false}}, "y": {"field": "v", "type": "quantitative", "scale": {"domain": [0, 40], "nice": false}}}},
  {"data": {"name": "status"}, "transform": [{"filter": "datum.c==='A7'"}], "mark": {"type": "point", "shape": "M-0.78,-1H0.78V0.31H0.25V0.5H0.47L0,1L-0.47,0.5H-0.25V0.31H-0.78Z", "size": 1024, "filled": true, "color": "#243150", "opacity": 1}, "encoding": {"x": {"field": "d", "type": "quantitative", "scale": {"domain": [0, 392], "nice": false}}, "y": {"field": "v", "type": "quantitative", "scale": {"domain": [0, 40], "nice": false}}}},
  {"data": {"name": "status"}, "transform": [{"filter": "datum.c==='A7'"}], "mark": {"type": "text", "color": "#ffffff", "fontSize": 16, "dy": -5.5, "baseline": "middle"}, "encoding": {"x": {"field": "d", "type": "quantitative", "scale": {"domain": [0, 392], "nice": false}}, "y": {"field": "v", "type": "quantitative", "scale": {"domain": [0, 40], "nice": false}}, "text": {"field": "t"}}}
 ]}
], "spacing": 46.5, "resolve": {"scale": {"color": "independent", "x": "independent", "y": "independent"}, "legend": {"color": "independent"}}},
{"hconcat": [
{"width": 278, "height": 117, "title": {"text": "Case A12", "offset": -7, "dx": -7},
 "layer": [
  {"data": {"name": "one"}, "mark": {"type": "rule", "color": "#595959", "strokeWidth": 1.3}, "encoding": {"x": {"datum": 0, "type": "quantitative", "scale": {"domain": [-24.3, 516], "nice": false}, "axis": {"values": [0, 90, 182, 274, 366, 456], "title": null, "labelOverlap": false}}, "y": {"datum": 0, "type": "quantitative", "scale": {"domain": [0, 25], "nice": false}, "axis": {"values": [0, 5, 10, 15, 20, 25], "title": null, "offset": -12.5, "labelOverlap": false, "labelSeparation": -200, "labelPadding": 0.5}}, "y2": {"datum": 25}}},
  {"data": {"name": "one"}, "mark": {"type": "rule", "color": "#595959", "strokeWidth": 1.3}, "encoding": {"x": {"datum": 0, "type": "quantitative", "scale": {"domain": [-24.3, 516], "nice": false}}, "x2": {"datum": 516}, "y": {"datum": 0, "type": "quantitative", "scale": {"domain": [0, 25], "nice": false}}}},
  {"data": {"name": "one"}, "mark": {"type": "point", "shape": "M-42.7,87.4V44.8H-46.8L-41.8,37.5L-36.8,44.8H-40.9V85.6H4.8V81.5L12.2,86.5L4.8,91.5V87.4Z", "size": 4, "filled": true, "color": "#000000", "opacity": 1}, "encoding": {"x": {"datum": 0, "type": "quantitative", "scale": {"domain": [-24.3, 516], "nice": false}}, "y": {"datum": 0, "type": "quantitative", "scale": {"domain": [0, 25], "nice": false}}}},
  {"data": {"name": "one"}, "mark": {"type": "text", "text": "Fractional abundance", "angle": 270, "align": "left", "baseline": "alphabetic", "dx": -88.2, "dy": -73.5, "fontSize": 17, "color": "#1a1a1a"}, "encoding": {"x": {"datum": 0, "type": "quantitative", "scale": {"domain": [-24.3, 516], "nice": false}}, "y": {"datum": 0, "type": "quantitative", "scale": {"domain": [0, 25], "nice": false}}}},
  {"data": {"name": "one"}, "mark": {"type": "text", "text": "of mutated gene", "angle": 270, "align": "left", "baseline": "alphabetic", "dx": -88.2, "dy": -51, "fontSize": 17, "color": "#1a1a1a"}, "encoding": {"x": {"datum": 0, "type": "quantitative", "scale": {"domain": [-24.3, 516], "nice": false}}, "y": {"datum": 0, "type": "quantitative", "scale": {"domain": [0, 25], "nice": false}}}},
  {"data": {"name": "one"}, "mark": {"type": "text", "text": "Days from", "align": "left", "baseline": "alphabetic", "dx": -45.2, "dy": 119.5, "fontSize": 17, "color": "#1a1a1a"}, "encoding": {"x": {"datum": 0, "type": "quantitative", "scale": {"domain": [-24.3, 516], "nice": false}}, "y": {"datum": 0, "type": "quantitative", "scale": {"domain": [0, 25], "nice": false}}}},
  {"data": {"name": "one"}, "mark": {"type": "text", "text": "osimertinib initiation", "align": "left", "baseline": "alphabetic", "dx": -45.2, "dy": 139.5, "fontSize": 17, "color": "#1a1a1a"}, "encoding": {"x": {"datum": 0, "type": "quantitative", "scale": {"domain": [-24.3, 516], "nice": false}}, "y": {"datum": 0, "type": "quantitative", "scale": {"domain": [0, 25], "nice": false}}}},
  {"data": {"name": "arrows"}, "transform": [{"filter": "datum.c==='A12'"}], "mark": {"type": "rule", "color": "#808080", "strokeWidth": 13, "strokeCap": "butt", "xOffset": 15, "x2Offset": -15}, "encoding": {"x": {"field": "x1", "type": "quantitative", "scale": {"domain": [-24.3, 516], "nice": false}}, "x2": {"field": "x2"}, "y": {"field": "y", "type": "quantitative", "scale": {"domain": [0, 25], "nice": false}}}},
  {"data": {"name": "arrows"}, "transform": [{"filter": "datum.c==='A12'"}], "mark": {"type": "rule", "color": "#ffffff", "strokeWidth": 10.6, "strokeCap": "butt", "xOffset": 15, "x2Offset": -15}, "encoding": {"x": {"field": "x1", "type": "quantitative", "scale": {"domain": [-24.3, 516], "nice": false}}, "x2": {"field": "x2"}, "y": {"field": "y", "type": "quantitative", "scale": {"domain": [0, 25], "nice": false}}}},
  {"data": {"name": "arrows"}, "transform": [{"filter": "datum.c==='A12'"}], "mark": {"type": "point", "shape": "M1.2,-0.48L1.2,-1L0,0L1.2,1L1.2,0.48", "size": 625, "filled": true, "color": "#ffffff", "stroke": "#808080", "strokeWidth": 1.3, "opacity": 1}, "encoding": {"x": {"field": "x1", "type": "quantitative", "scale": {"domain": [-24.3, 516], "nice": false}}, "y": {"field": "y", "type": "quantitative", "scale": {"domain": [0, 25], "nice": false}}}},
  {"data": {"name": "arrows"}, "transform": [{"filter": "datum.c==='A12'"}], "mark": {"type": "point", "shape": "M-1.2,-0.48L-1.2,-1L0,0L-1.2,1L-1.2,0.48", "size": 625, "filled": true, "color": "#ffffff", "stroke": "#808080", "strokeWidth": 1.3, "opacity": 1}, "encoding": {"x": {"field": "x2", "type": "quantitative", "scale": {"domain": [-24.3, 516], "nice": false}}, "y": {"field": "y", "type": "quantitative", "scale": {"domain": [0, 25], "nice": false}}}},
  {"data": {"name": "arrows"}, "transform": [{"filter": "datum.c==='A12'"}], "mark": {"type": "text", "fontSize": 17, "dy": 1, "baseline": "middle", "color": "#1a1a1a"}, "encoding": {"x": {"field": "xm", "type": "quantitative", "scale": {"domain": [-24.3, 516], "nice": false}}, "y": {"field": "y", "type": "quantitative", "scale": {"domain": [0, 25], "nice": false}}, "text": {"field": "t"}}},
  {"data": {"name": "obs"}, "transform": [{"filter": "datum.c==='A12' && indexof(datum.g,'d')===0"}], "mark": {"type": "line", "strokeDash": [2, 3], "strokeWidth": 2}, "encoding": {"x": {"field": "d", "type": "quantitative", "scale": {"domain": [-24.3, 516], "nice": false}}, "y": {"field": "v", "type": "quantitative", "scale": {"domain": [0, 25], "nice": false}}, "detail": [{"field": "s", "type": "nominal"}, {"field": "g", "type": "nominal"}], "color": {"condition": [{"test": "datum.s==='C797S'", "value": "#6aaa3a"}, {"test": "datum.s==='T790M'", "value": "#f0691f"}], "value": "#4454b0"}}},
  {"data": {"name": "obs"}, "transform": [{"filter": "datum.c==='A12' && indexof(datum.g,'s')===0"}], "mark": {"type": "line"}, "encoding": {"x": {"field": "d", "type": "quantitative", "scale": {"domain": [-24.3, 516], "nice": false}}, "y": {"field": "v", "type": "quantitative", "scale": {"domain": [0, 25], "nice": false}}, "detail": [{"field": "s", "type": "nominal"}, {"field": "g", "type": "nominal"}], "strokeWidth": {"condition": {"test": "datum.s==='C797S'", "value": 3}, "value": 2},
    "color": {"condition": [{"test": "datum.s==='C797S'", "value": "#6aaa3a"}, {"test": "datum.s==='T790M'", "value": "#f0691f"}], "value": "#4454b0"}}},
  {"data": {"name": "obs"}, "transform": [{"filter": "datum.c==='A12' && indexof(datum.g,'s')===0"}], "mark": {"type": "point", "filled": true, "size": 64, "opacity": 1}, "encoding": {"x": {"field": "d", "type": "quantitative", "scale": {"domain": [-24.3, 516], "nice": false}, "axis": {"values": [0, 90, 182, 274, 366, 456], "title": null, "labelOverlap": false}}, "y": {"field": "v", "type": "quantitative", "scale": {"domain": [0, 25], "nice": false}, "axis": {"values": [0, 5, 10, 15, 20, 25], "title": null, "offset": -12.5, "labelOverlap": false, "labelSeparation": -200, "labelPadding": 0.5}},
    "color": {"field": "s", "type": "nominal", "scale": {"domain": ["19del", "T790M", "C797S"], "range": ["#4454b0", "#f0691f", "#6aaa3a"]}, "legend": {"title": null, "offset": 14}}}},
  {"data": {"name": "status"}, "transform": [{"filter": "datum.c==='A12'"}], "mark": {"type": "point", "shape": "M-0.78,-1H0.78V0.31H0.25V0.5H0.47L0,1L-0.47,0.5H-0.25V0.31H-0.78Z", "size": 1024, "filled": true, "color": "#243150", "opacity": 1}, "encoding": {"x": {"field": "d", "type": "quantitative", "scale": {"domain": [-24.3, 516], "nice": false}}, "y": {"field": "v", "type": "quantitative", "scale": {"domain": [0, 25], "nice": false}}}},
  {"data": {"name": "status"}, "transform": [{"filter": "datum.c==='A12'"}], "mark": {"type": "text", "color": "#ffffff", "fontSize": 16, "dy": -5.5, "baseline": "middle"}, "encoding": {"x": {"field": "d", "type": "quantitative", "scale": {"domain": [-24.3, 516], "nice": false}}, "y": {"field": "v", "type": "quantitative", "scale": {"domain": [0, 25], "nice": false}}, "text": {"field": "t"}}}
 ]},
{"width": 275, "height": 120, "title": {"text": "Case A16", "offset": -6.5, "dx": -8.5},
 "layer": [
  {"data": {"name": "one"}, "mark": {"type": "rule", "color": "#595959", "strokeWidth": 1.3}, "encoding": {"x": {"datum": 0, "type": "quantitative", "scale": {"domain": [0, 444], "nice": false}, "axis": {"values": [0, 90, 182, 274, 366], "title": null, "labelOverlap": false}}, "y": {"datum": 0, "type": "quantitative", "scale": {"domain": [0, 5.25], "nice": false}, "axis": {"values": [0, 1, 2, 3, 4, 5], "title": null, "labelOverlap": false, "labelSeparation": -200, "labelPadding": 10}}, "y2": {"datum": 5}}},
  {"data": {"name": "one"}, "mark": {"type": "rule", "color": "#595959", "strokeWidth": 1.3}, "encoding": {"x": {"datum": 0, "type": "quantitative", "scale": {"domain": [0, 444], "nice": false}}, "x2": {"datum": 444}, "y": {"datum": 0, "type": "quantitative", "scale": {"domain": [0, 5.25], "nice": false}}}},
  {"data": {"name": "arrows"}, "transform": [{"filter": "datum.c==='A16'"}], "mark": {"type": "rule", "color": "#808080", "strokeWidth": 13, "strokeCap": "butt", "xOffset": 15, "x2Offset": -15}, "encoding": {"x": {"field": "x1", "type": "quantitative", "scale": {"domain": [0, 444], "nice": false}}, "x2": {"field": "x2"}, "y": {"field": "y", "type": "quantitative", "scale": {"domain": [0, 5.25], "nice": false}}}},
  {"data": {"name": "arrows"}, "transform": [{"filter": "datum.c==='A16'"}], "mark": {"type": "rule", "color": "#ffffff", "strokeWidth": 10.6, "strokeCap": "butt", "xOffset": 15, "x2Offset": -15}, "encoding": {"x": {"field": "x1", "type": "quantitative", "scale": {"domain": [0, 444], "nice": false}}, "x2": {"field": "x2"}, "y": {"field": "y", "type": "quantitative", "scale": {"domain": [0, 5.25], "nice": false}}}},
  {"data": {"name": "arrows"}, "transform": [{"filter": "datum.c==='A16'"}], "mark": {"type": "point", "shape": "M1.2,-0.48L1.2,-1L0,0L1.2,1L1.2,0.48", "size": 625, "filled": true, "color": "#ffffff", "stroke": "#808080", "strokeWidth": 1.3, "opacity": 1}, "encoding": {"x": {"field": "x1", "type": "quantitative", "scale": {"domain": [0, 444], "nice": false}}, "y": {"field": "y", "type": "quantitative", "scale": {"domain": [0, 5.25], "nice": false}}}},
  {"data": {"name": "arrows"}, "transform": [{"filter": "datum.c==='A16'"}], "mark": {"type": "point", "shape": "M-1.2,-0.48L-1.2,-1L0,0L-1.2,1L-1.2,0.48", "size": 625, "filled": true, "color": "#ffffff", "stroke": "#808080", "strokeWidth": 1.3, "opacity": 1}, "encoding": {"x": {"field": "x2", "type": "quantitative", "scale": {"domain": [0, 444], "nice": false}}, "y": {"field": "y", "type": "quantitative", "scale": {"domain": [0, 5.25], "nice": false}}}},
  {"data": {"name": "arrows"}, "transform": [{"filter": "datum.c==='A16'"}], "mark": {"type": "text", "fontSize": 17, "dy": 1, "baseline": "middle", "color": "#1a1a1a"}, "encoding": {"x": {"field": "xm", "type": "quantitative", "scale": {"domain": [0, 444], "nice": false}}, "y": {"field": "y", "type": "quantitative", "scale": {"domain": [0, 5.25], "nice": false}}, "text": {"field": "t"}}},
  {"data": {"name": "obs"}, "transform": [{"filter": "datum.c==='A16' && indexof(datum.g,'s')===0"}], "mark": {"type": "line"}, "encoding": {"x": {"field": "d", "type": "quantitative", "scale": {"domain": [0, 444], "nice": false}}, "y": {"field": "v", "type": "quantitative", "scale": {"domain": [0, 5.25], "nice": false}}, "detail": [{"field": "s", "type": "nominal"}, {"field": "g", "type": "nominal"}], "strokeWidth": {"condition": {"test": "datum.s==='C797S'", "value": 3}, "value": 2},
    "color": {"condition": [{"test": "datum.s==='C797S'", "value": "#6aaa3a"}, {"test": "datum.s==='T790M'", "value": "#f0691f"}], "value": "#4454b0"}}},
  {"data": {"name": "obs"}, "transform": [{"filter": "datum.c==='A16' && indexof(datum.g,'s')===0"}], "mark": {"type": "point", "filled": true, "size": 64, "opacity": 1}, "encoding": {"x": {"field": "d", "type": "quantitative", "scale": {"domain": [0, 444], "nice": false}, "axis": {"values": [0, 90, 182, 274, 366], "title": null, "labelOverlap": false}}, "y": {"field": "v", "type": "quantitative", "scale": {"domain": [0, 5.25], "nice": false}, "axis": {"values": [0, 1, 2, 3, 4, 5], "title": null, "labelOverlap": false, "labelSeparation": -200, "labelPadding": 10}},
    "color": {"field": "s", "type": "nominal", "scale": {"domain": ["19del", "T790M", "C797S"], "range": ["#4454b0", "#f0691f", "#6aaa3a"]}, "legend": {"title": null, "offset": 14}}}},
  {"data": {"name": "status"}, "transform": [{"filter": "datum.c==='A16'"}], "mark": {"type": "point", "shape": "M-0.78,-1H0.78V0.31H0.25V0.5H0.47L0,1L-0.47,0.5H-0.25V0.31H-0.78Z", "size": 1024, "filled": true, "color": "#243150", "opacity": 1}, "encoding": {"x": {"field": "d", "type": "quantitative", "scale": {"domain": [0, 444], "nice": false}}, "y": {"field": "v", "type": "quantitative", "scale": {"domain": [0, 5.25], "nice": false}}}},
  {"data": {"name": "status"}, "transform": [{"filter": "datum.c==='A16'"}], "mark": {"type": "text", "color": "#ffffff", "fontSize": 16, "dy": -5.5, "baseline": "middle"}, "encoding": {"x": {"field": "d", "type": "quantitative", "scale": {"domain": [0, 444], "nice": false}}, "y": {"field": "v", "type": "quantitative", "scale": {"domain": [0, 5.25], "nice": false}}, "text": {"field": "t"}}}
 ]}
], "spacing": 46, "resolve": {"scale": {"color": "independent", "x": "independent", "y": "independent"}, "legend": {"color": "independent"}}}
],
"config": {
 "font": "Liberation Sans",
 "view": {"stroke": null},
 "axis": {"domain": false, "grid": false, "ticks": true, "tickSize": 5, "tickColor": "#595959", "tickWidth": 1.2, "labelFontSize": 17, "labelColor": "#1a1a1a", "labelPadding": 4, "labelFlush": false, "labelOverlap": false, "labelSeparation": -200},
 "axisY": {"labelOverlap": false, "labelSeparation": -200, "labelBound": false},
 "title": {"fontSize": 19.5, "fontWeight": "normal", "color": "#000000", "frame": "group", "anchor": "middle"},
 "legend": {"orient": "bottom", "direction": "horizontal", "symbolType": "M-1,-0.07H-0.25V0.07H-1Z M0.25,-0.07H1V0.07H0.25Z M-0.31,0A0.31,0.31 0 1,1 0.31,0A0.31,0.31 0 1,1 -0.31,0Z", "symbolSize": 841, "symbolStrokeWidth": 0, "labelFontSize": 17, "labelColor": "#1a1a1a", "labelOffset": 2, "columnPadding": 9, "offset": 12, "padding": 0}
}
}
